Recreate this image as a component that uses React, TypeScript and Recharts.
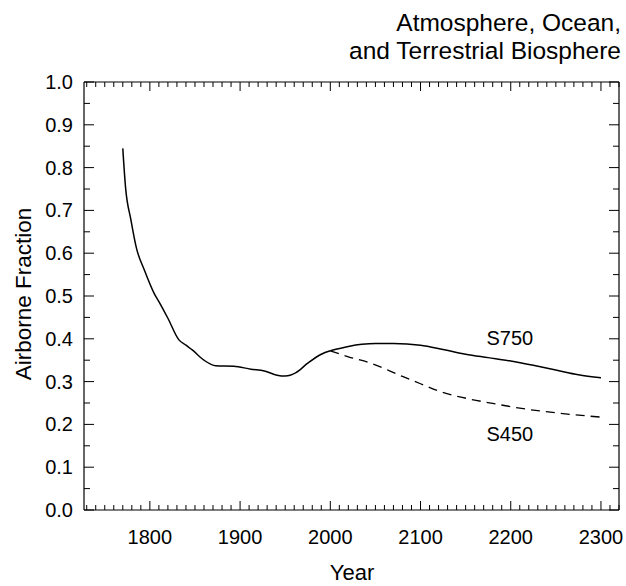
import { LineChart, Line, XAxis, YAxis, ReferenceDot } from 'recharts';

// historical airborne fraction
const pastYears = [1770, 1773, 1779, 1785, 1794, 1805, 1810, 1820, 1832, 1840, 1847, 1860, 1873, 1893, 1912, 1927, 1941, 1950, 1962, 1975, 1990, 2000];
const pastFraction = [0.845, 0.755, 0.678, 0.613, 0.56, 0.505, 0.487, 0.448, 0.398, 0.385, 0.374, 0.35, 0.337, 0.336, 0.329, 0.325, 0.315, 0.313, 0.321, 0.343, 0.364, 0.372];

// stabilisation scenarios
const s750Years = [2000, 2020, 2035, 2050, 2070, 2100, 2125, 2150, 2175, 2200, 2225, 2250, 2275, 2300];
const s750Fraction = [0.372, 0.382, 0.387, 0.389, 0.389, 0.385, 0.375, 0.364, 0.356, 0.348, 0.338, 0.327, 0.316, 0.309];
const s450Years = [2000, 2020, 2045, 2080, 2100, 2120, 2155, 2180, 2210, 2250, 2300];
const s450Fraction = [0.372, 0.358, 0.343, 0.312, 0.295, 0.278, 0.259, 0.249, 0.238, 0.227, 0.217];

const yearLabels = [1800, 1900, 2000, 2100, 2200, 2300];

const pastData = pastYears.map((year, i) => ({ year, v: pastFraction[i] }));
const s750Data = s750Years.map((year, i) => ({ year, v: s750Fraction[i] }));
const s450Data = s450Years.map((year, i) => ({ year, v: s450Fraction[i] }));

// minor ticks every 10 years / 0.05
const xTicks: number[] = [];
for (let y = 1730; y <= 2320; y += 10) xTicks.push(y);
const yTicks: number[] = [];
for (let i = 0; i <= 20; i++) yTicks.push(Math.round(i * 5) / 100);

const FONT = '"Liberation Sans", Arial, Helvetica, sans-serif';

const isMajorYear = (v: number) => yearLabels.includes(v);
const isMajorFrac = (v: number) => Math.round(v * 100) % 10 === 0;

const BottomTick = ({ x, y, payload }: any) => {
  const major = isMajorYear(payload.value);
  return (
    <g>
      <line x1={x} y1={y} x2={x} y2={y - (major ? 9 : 5)} stroke="#000" />
      {major && (
        <text x={x} y={y + 34} textAnchor="middle" fontSize={20} fontFamily={FONT} fill="#000">
          {payload.value}
        </text>
      )}
    </g>
  );
};

const TopTick = ({ x, y, payload }: any) => {
  const major = isMajorYear(payload.value);
  return <line x1={x} y1={y} x2={x} y2={y + (major ? 9 : 5)} stroke="#000" />;
};

const LeftTick = ({ x, y, payload }: any) => {
  const major = isMajorFrac(payload.value);
  return (
    <g>
      <line x1={x} y1={y} x2={x + (major ? 10 : 6)} y2={y} stroke="#000" />
      {major && (
        <text x={x - 11} y={y + 7} textAnchor="end" fontSize={20} fontFamily={FONT} fill="#000">
          {payload.value.toFixed(1)}
        </text>
      )}
    </g>
  );
};

const RightTick = ({ x, y, payload }: any) => {
  const major = isMajorFrac(payload.value);
  return <line x1={x} y1={y} x2={x - (major ? 10 : 6)} y2={y} stroke="#000" />;
};

const axisProps = {
  type: 'number' as const,
  allowDataOverflow: true,
  interval: 0 as const,
  tickSize: 0,
  tickMargin: 0,
  tickLine: false,
  axisLine: { stroke: '#000', strokeWidth: 1.2 },
};

export default function App() {
  const textStyle = { position: 'absolute' as const, fontFamily: FONT, color: '#000', whiteSpace: 'nowrap' as const };
  return (
    <div style={{ position: 'absolute', left: 0, top: 0, width: 626, height: 586, background: '#fff' }}>
      <div style={{ ...textStyle, fontSize: 24.5, lineHeight: '28px', right: 5, top: 8.5, textAlign: 'right' }}>
        Atmosphere, Ocean,
        <br />
        and Terrestrial Biosphere
      </div>
      <div style={{ ...textStyle, fontSize: 22, lineHeight: '22px', left: 252, width: 200, top: 562, textAlign: 'center' }}>Year</div>
      <div
        style={{
          ...textStyle,
          fontSize: 22.5,
          lineHeight: '22px',
          left: 24 - 100,
          top: 294 - 11,
          width: 200,
          textAlign: 'center',
          transform: 'rotate(-90deg)',
        }}
      >
        Airborne Fraction
      </div>
      <LineChart width={626} height={586} margin={{ top: 72, right: 2, bottom: 36, left: 24 }}>
        <XAxis {...axisProps} dataKey="year" domain={[1727, 2320]} ticks={xTicks} height={40} tick={BottomTick} />
        <XAxis {...axisProps} xAxisId="top" orientation="top" dataKey="year" domain={[1727, 2320]} ticks={xTicks} height={10} tick={TopTick} />
        <YAxis {...axisProps} domain={[0, 1]} ticks={yTicks} width={60} tick={LeftTick} />
        <YAxis {...axisProps} yAxisId="right" orientation="right" domain={[0, 1]} ticks={yTicks} width={5} tick={RightTick} />
        <Line data={pastData} dataKey="v" type="monotone" stroke="#000" strokeWidth={1.5} dot={false} isAnimationActive={false} />
        <Line data={s750Data} dataKey="v" type="monotone" stroke="#000" strokeWidth={1.5} dot={false} isAnimationActive={false} />
        <Line data={s450Data} dataKey="v" type="monotone" stroke="#000" strokeWidth={1.3} strokeDasharray="9 6" dot={false} isAnimationActive={false} />
        <ReferenceDot x={2199} y={0.401} r={0} fill="none" stroke="none" label={{ value: 'S750', position: 'center', fontSize: 20, fontFamily: FONT, fill: '#000' }} />
        <ReferenceDot x={2199} y={0.178} r={0} fill="none" stroke="none" label={{ value: 'S450', position: 'center', fontSize: 20, fontFamily: FONT, fill: '#000' }} />
      </LineChart>
    </div>
  );
}
